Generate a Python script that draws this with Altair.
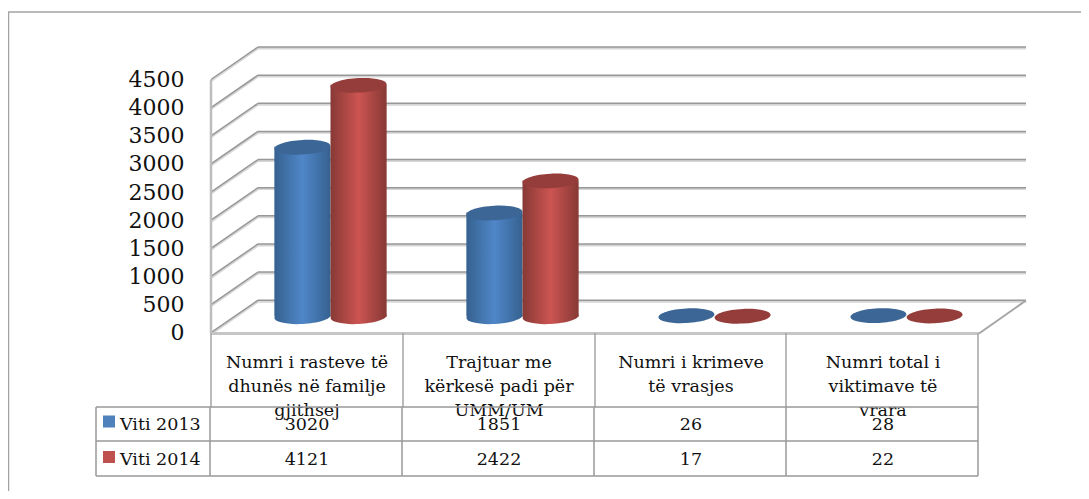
import altair as alt
import pandas as pd

CATEGORIES = ["Numri i rasteve të\ndhunës në familje\ngjithsej",
              "Trajtuar me\nkërkesë padi për\nUMM/UM",
              "Numri i krimeve\ntë vrasjes",
              "Numri total i\nviktimave të\nvrara"]
SERIES = ["Viti 2013", "Viti 2014"]
VALUES_2013 = [3020, 1851, 26, 28]
VALUES_2014 = [4121, 2422, 17, 22]
TICKS = [0, 500, 1000, 1500, 2000, 2500, 3000, 3500, 4000, 4500]

W, H = 1073, 483
FONT = "DejaVu Serif"
LINE = "#989898"
LIGHT = "#d6d6d6"
UNITS_PER_PX = 4500 / 253.2
DEPTH_PX = 32.5
PAL = {
    "Viti 2013": dict(edge="#35618f", mid="#5087c9", top="#3c6696", swatch="#4f81bd"),
    "Viti 2014": dict(edge="#873936", mid="#cc5451", top="#953d3b", swatch="#c0504d"),
}

rows = []
for i, c in enumerate(CATEGORIES):
    rows.append({"cat": c, "series": SERIES[0], "value": VALUES_2013[i]})
    rows.append({"cat": c, "series": SERIES[1], "value": VALUES_2014[i]})
df = pd.DataFrame(rows)
cats_df = pd.DataFrame({"cat": CATEGORIES})
ticks_df = pd.DataFrame({"v": TICKS})
ticks_df["v2"] = ticks_df["v"] + DEPTH_PX * UNITS_PER_PX

yscale = alt.Scale(domain=[-(H - 324.7) * UNITS_PER_PX, 324.7 * UNITS_PER_PX], nice=False, zero=False)
xscale = alt.Scale(domain=CATEGORIES, range=[226.5, 994.5], paddingInner=0, paddingOuter=0)
X = alt.X("cat:N", scale=xscale, axis=None, sort=CATEGORIES)
XOFF = alt.XOffset("series:N", scale=alt.Scale(domain=SERIES, paddingInner=0, paddingOuter=0.71))
Y = alt.Y("value:Q", scale=yscale, axis=None)
ELLIPSE = "M-1,0.05 A1,0.26 -3 1,1 1,-0.05 A1,0.26 -3 1,1 -1,0.05 Z"


def seg(x1, y1, x2, y2, color=LINE, w=1.5):
    return alt.Chart(pd.DataFrame({"a": [0]})).mark_rule(color=color, strokeWidth=w).encode(
        x=alt.value(x1 - 8), x2=alt.value(x2 - 8), y=alt.value(y1 - 8), y2=alt.value(y2 - 8))


layers = []

# value axis
layers.append(alt.Chart(ticks_df).mark_rule(opacity=0).encode(
    y=alt.Y("v:Q", scale=yscale, axis=alt.Axis(
        values=TICKS, orient="left", offset=-203, domain=False, ticks=False, grid=False, title=None,
        format="d", labelFont=FONT, labelFontSize=22, labelColor="#111111", labelPadding=27,
        labelOverlap=False, labelFlush=False))))

# frame
layers += [seg(0, 12, 1089, 12, "#a3a3a3", 1.5), seg(8.5, 12, 8.5, 499, "#a3a3a3", 1.5)]

# back wall grid + side wall diagonals, through the value scale
for off, col, w in [(1.2, LIGHT, 2.5), (0, LINE, 1.5)]:
    layers.append(alt.Chart(ticks_df).mark_rule(color=col, strokeWidth=w, yOffset=off).encode(
        x=alt.value(258 - 8), x2=alt.value(1026 - 8),
        y=alt.Y("v2:Q", scale=yscale, axis=None)))
    layers.append(alt.Chart(ticks_df).mark_rule(color=col, strokeWidth=w, yOffset=off, y2Offset=off).encode(
        x=alt.value(211 - 8), x2=alt.value(258 - 8),
        y=alt.Y("v:Q", scale=yscale, axis=None), y2="v2:Q"))

# walls and floor edges
layers += [seg(211, 80, 211, 333, "#bdbdbd", 2.5),
           seg(979, 333.5, 1026, 300.5, "#a5a5a5", 2),
           seg(211, 333.5, 979, 333.5, "#c6c6c6", 3)]

# cylinders
for s in SERIES:
    p = PAL[s]
    grad = alt.Gradient(gradient="linear", x1=0, x2=1, y1=0, y2=0, stops=[
        alt.GradientStop(color=p["edge"], offset=0),
        alt.GradientStop(color=p["mid"], offset=0.5),
        alt.GradientStop(color=p["edge"], offset=1)])
    base = alt.Chart(df).transform_filter(alt.datum.series == s).transform_calculate(zero="0")
    big = base.transform_filter(alt.datum.value > 100)
    layers.append(big.mark_point(shape=ELLIPSE, size=3136, filled=True, fill=grad, opacity=1, strokeWidth=0,
                                 yOffset=-16).encode(x=X, xOffset=XOFF, y=alt.Y("zero:Q", scale=yscale, axis=None)))
    layers.append(big.mark_bar(fill=grad, yOffset=-16, y2Offset=-16).encode(
        x=X, xOffset=XOFF, y=Y, y2="zero:Q"))
    layers.append(base.mark_point(shape=ELLIPSE, size=3136, filled=True, fill=p["top"], opacity=1, strokeWidth=0,
                                  yOffset=-15.5).encode(x=X, xOffset=XOFF, y=Y))

# category text
layers.append(alt.Chart(cats_df).mark_text(font=FONT, fontSize=17.5, color="#111111", lineBreak="\n", lineHeight=24,
                                           baseline="top", dx=-23.5).encode(
    x=X, y=alt.value(353.5 - 8), text="cat:N"))

# table lines
for x in [211, 403, 595, 786, 978]:
    layers.append(seg(x, 333, x, 407, "#a5a5a5", 1.5))
for y in [407, 441, 476]:
    layers.append(seg(96, y, 978, y, LINE, 1.5))
for x in [96, 210, 402, 594, 786, 978]:
    layers.append(seg(x, 407, x, 476, LINE, 1.5))

# table values and legend keys
for s, ytext, yswatch in zip(SERIES, [425, 460], [421.5, 457]):
    p = PAL[s]
    rowdf = df[df.series == s]
    layers.append(alt.Chart(rowdf).mark_text(font=FONT, fontSize=17.5, color="#111111", dx=-23.5).encode(
        x=X, y=alt.value(ytext - 8), text="value:Q"))
    leg = pd.DataFrame({"series": [s]})
    layers.append(alt.Chart(leg).mark_square(size=144, color=p["swatch"], opacity=1).encode(
        x=alt.value(109 - 8), y=alt.value(yswatch - 8)))
    layers.append(alt.Chart(leg).mark_text(font=FONT, fontSize=17.5, color="#111111", align="left").encode(
        x=alt.value(120 - 8), y=alt.value(ytext - 8), text="series:N"))

chart = alt.layer(*layers).resolve_axis(y="independent").properties(
    width=W, height=H, padding=0, autosize=alt.AutoSizeParams(type="none")
).configure_view(stroke=None)

chart.save("out.html", embed_options={"renderer": "svg", "actions": False})
